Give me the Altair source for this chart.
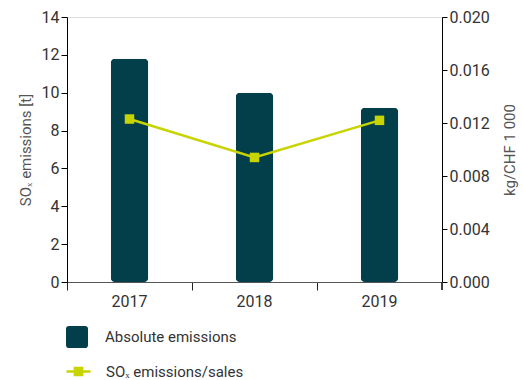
import altair as alt
import pandas as pd

years = ["2017", "2018", "2019"]
absolute_emissions = [11.8, 10.0, 9.2]
emissions_per_sales = [0.0123, 0.0094, 0.0122]

bar_label = "Absolute emissions"
line_label = "SOₓ emissions/sales"

df = pd.DataFrame({
    "year": years,
    "absolute": absolute_emissions,
    "ratio": emissions_per_sales,
    "bar_series": [bar_label] * len(years),
    "line_series": [line_label] * len(years),
})

TEAL = "#023f4a"
LIME = "#c8d400"
FONT = "Roboto"
W, H = 375, 265

x_enc = alt.X(
    "year:N",
    title=None,
    scale=alt.Scale(paddingInner=0, paddingOuter=0),
    axis=alt.Axis(
        bandPosition=0, labelAngle=0, domainColor="#555555", tickColor="#222222",
        tickSize=8, labelFontSize=16, labelColor="#333333", labelPadding=3,
        labelFont=FONT,
    ),
)

rounded = ("M-1,-0.72 Q-1,-1 -0.72,-1 L0.72,-1 Q1,-1 1,-0.72 L1,0.72 "
           "Q1,1 0.72,1 L-0.72,1 Q-1,1 -1,0.72 Z")
line_sym = "M-1,0 L1,0 M-0.3,-0.3 L0.3,-0.3 L0.3,0.3 L-0.3,0.3 Z"

bars = alt.Chart(df).mark_bar(width=alt.RelativeBandSize(0.3), cornerRadius=4).encode(
    x=x_enc,
    y=alt.Y(
        "absolute:Q",
        title="SOₓ emissions [t]",
        scale=alt.Scale(domain=[0, 14]),
        axis=alt.Axis(
            values=[0, 2, 4, 6, 8, 10, 12, 14], grid=False, domainColor="#000000",
            tickColor="#000000", tickSize=6, labelFontSize=16, labelColor="#333333",
            labelFont=FONT, titleFont=FONT, titleFontSize=15, titleFontWeight="normal",
            titleColor="#555555", titlePadding=8,
        ),
    ),
    fill=alt.Fill(
        "bar_series:N",
        scale=alt.Scale(domain=[bar_label], range=[TEAL]),
        legend=alt.Legend(
            title=None, orient="none", legendX=-2, legendY=308,
            symbolType=rounded, symbolSize=484, labelFontSize=15,
            labelFont=FONT, labelColor="#333333", labelOffset=16,
        ),
    ),
)

# closing tick of the category axis at the right edge
end_tick = alt.Chart(df).mark_rule(color="#222222").encode(
    x=alt.value(W), y=alt.value(H), y2=alt.value(H + 8)
)

y_right = alt.Y(
    "ratio:Q",
    title="kg/CHF 1 000",
    scale=alt.Scale(domain=[0, 0.02]),
    axis=alt.Axis(
        orient="right", values=[0, 0.004, 0.008, 0.012, 0.016, 0.02], format=".3f",
        grid=False, domainColor="#000000", tickColor="#000000", tickSize=5,
        labelFontSize=16, labelColor="#333333", labelFont=FONT, titleFont=FONT,
        titleFontSize=15, titleFontWeight="normal", titleColor="#555555",
        titlePadding=13, titleAngle=270, titleBaseline="top",
    ),
)

line = alt.Chart(df).mark_line(strokeWidth=2.5).encode(
    x=x_enc,
    y=y_right,
    stroke=alt.Stroke(
        "line_series:N",
        scale=alt.Scale(domain=[line_label], range=[LIME]),
        legend=alt.Legend(
            title=None, orient="none", legendX=-2, legendY=341,
            symbolType=line_sym, symbolSize=576, symbolStrokeWidth=2.5,
            symbolFillColor=LIME, labelFontSize=15, labelFont=FONT,
            labelColor="#333333", labelOffset=14,
        ),
    ),
)

points = alt.Chart(df).mark_square(size=90, opacity=1, color=LIME).encode(
    x=x_enc,
    y=y_right,
)

chart = alt.layer(alt.layer(bars, end_tick), alt.layer(line, points)).resolve_scale(
    y="independent"
).properties(
    width=W,
    height=H,
    autosize=alt.AutoSizeParams(type="none"),
    padding={"left": 67, "top": 17, "right": 81, "bottom": 98},
).configure_view(stroke=None).configure(font=FONT)

chart.save("out.html", embed_options={"renderer": "svg", "actions": False})
